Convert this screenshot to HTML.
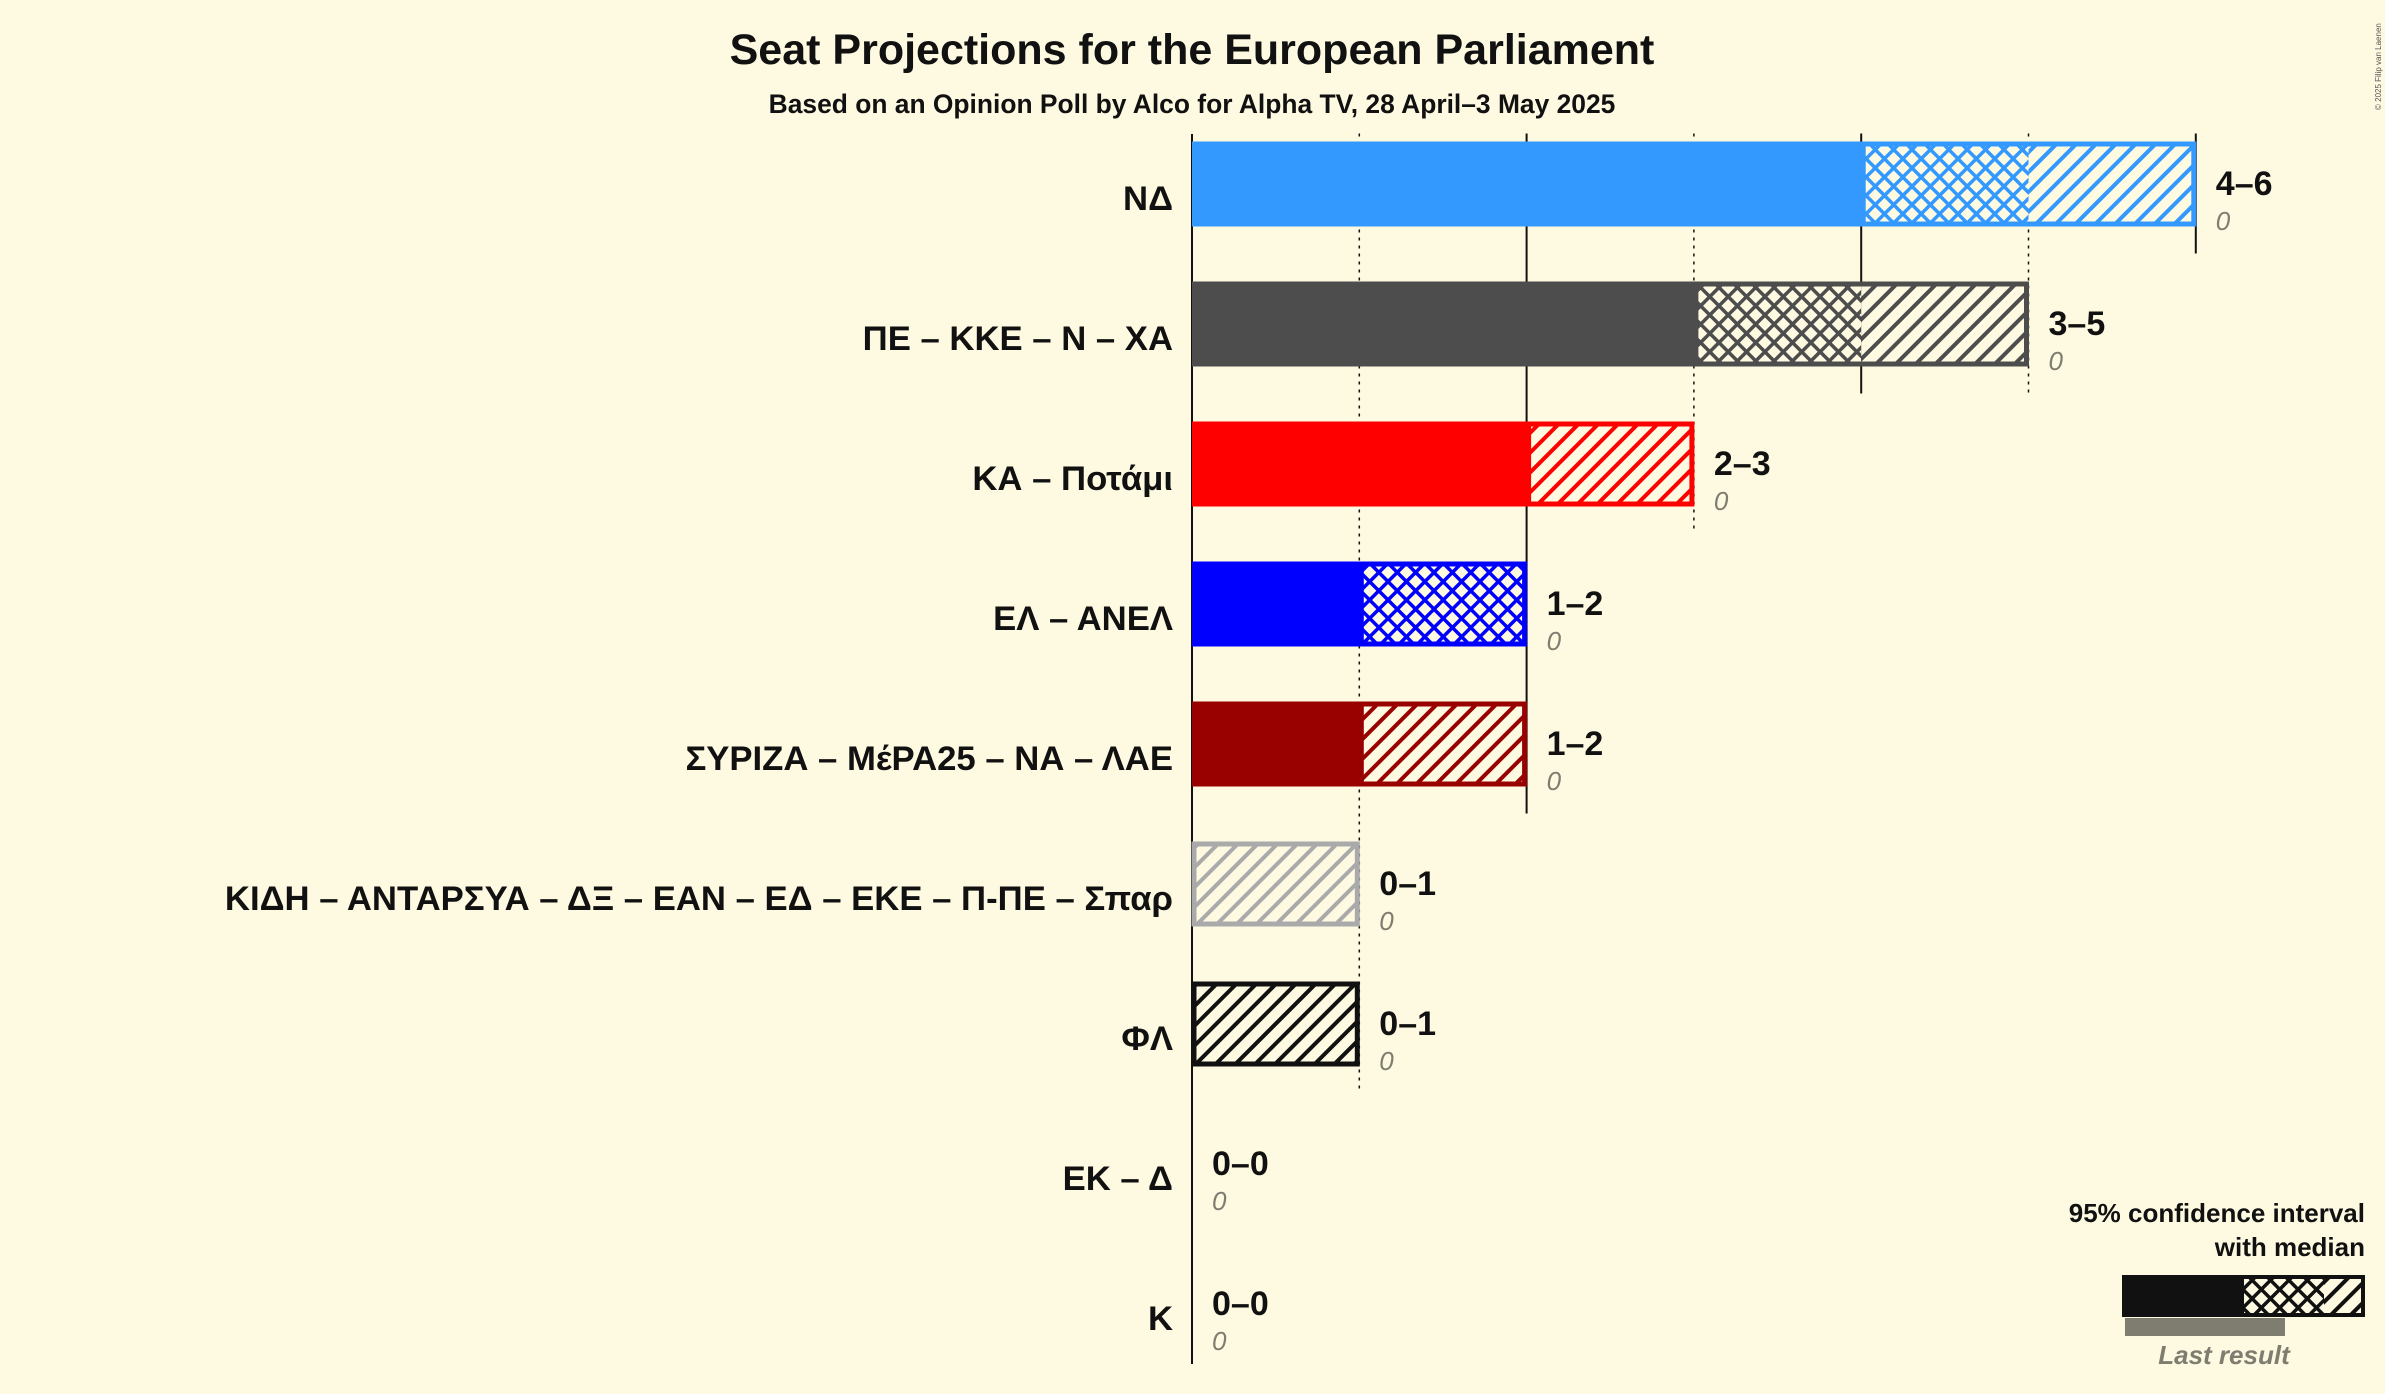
<!DOCTYPE html>
<html><head><meta charset="utf-8"><style>
html,body{margin:0;padding:0;background:#fefae1;}
svg{display:block;font-family:"Liberation Sans","DejaVu Sans",sans-serif;}
</style></head><body>
<svg id="chart" width="2385" height="1394" viewBox="0 0 2385 1394" xmlns="http://www.w3.org/2000/svg">
<defs id="defs"></defs>
<rect x="0" y="0" width="2385" height="1394" fill="#fefae1"/>
<text x="1192" y="64" text-anchor="middle" font-size="43" font-weight="bold" fill="#111">Seat Projections for the European Parliament</text>
<text x="1192" y="113" text-anchor="middle" font-size="26.4" font-weight="bold" fill="#111">Based on an Opinion Poll by Alco for Alpha TV, 28 April–3 May 2025</text>
<text transform="translate(2381,110) rotate(-90)" font-size="8" fill="#555">© 2025 Filip van Laenen</text>
<g id="grid"></g>
<g id="bars"></g>
<g id="legend">
  <text x="2365" y="1222" text-anchor="end" font-size="26" font-weight="bold" fill="#111">95% confidence interval</text>
  <text x="2365" y="1256" text-anchor="end" font-size="26" font-weight="bold" fill="#111">with median</text>
  <rect x="2125" y="1318" width="160" height="18" fill="#7f7d70"/>
  <rect x="2122" y="1275" width="122" height="42" fill="#111"/>
  <rect x="2244" y="1275" width="80" height="42" fill="url(#cross-leg)"/>
  <rect x="2324" y="1275" width="41" height="42" fill="url(#hatch-leg)"/>
  <rect x="2124" y="1277" width="239" height="38" fill="none" stroke="#111" stroke-width="4"/>
  <text x="2224" y="1364" text-anchor="middle" font-size="26" font-style="italic" font-weight="bold" fill="#7f7d70">Last result</text>
</g>
</svg>
<script>
const parties = ["ΝΔ","ΠΕ – ΚΚΕ – Ν – ΧΑ","ΚΑ – Ποτάμι","ΕΛ – ΑΝΕΛ","ΣΥΡΙΖΑ – ΜέΡΑ25 – ΝΑ – ΛΑΕ","ΚΙΔΗ – ΑΝΤΑΡΣΥΑ – ΔΞ – ΕΑΝ – ΕΔ – ΕΚΕ – Π-ΠΕ – Σπαρ","ΦΛ","ΕΚ – Δ","Κ"];
const lows = [4,3,2,1,1,0,0,0,0];
const medians = [5,4,2,2,1,0,0,0,0];
const highs = [6,5,3,2,2,1,1,0,0];
const lastResults = [0,0,0,0,0,0,0,0,0];
const colors = ["#3399ff","#4d4d4d","#ff0000","#0000ff","#990000","#aaaaaa","#111111","#111111","#111111"];

const NS="http://www.w3.org/2000/svg";
const X0=1192, UNIT=167.3, ROW0=184, ROWH=140, BARH=85;
const xs=v=>X0+v*UNIT;
const ys=i=>ROW0+i*ROWH;
const defs=document.getElementById('defs');
const grid=document.getElementById('grid');
const bars=document.getElementById('bars');
function mk(tag,attrs,parent){const e=document.createElementNS(NS,tag);for(const k in attrs)e.setAttribute(k,attrs[k]);parent.appendChild(e);return e;}
function patterns(id,col){
  const h=mk('pattern',{id:'hatch-'+id,patternUnits:'userSpaceOnUse',width:14,height:14,patternTransform:'rotate(45)'},defs);
  mk('rect',{x:0,y:0,width:14,height:14,fill:'#fefae1'},h);
  mk('rect',{x:0,y:0,width:4,height:14,fill:col},h);
  const c=mk('pattern',{id:'cross-'+id,patternUnits:'userSpaceOnUse',width:13,height:13,patternTransform:'rotate(45)'},defs);
  mk('rect',{x:0,y:0,width:13,height:13,fill:'#fefae1'},c);
  mk('rect',{x:0,y:0,width:3.5,height:13,fill:col},c);
  mk('rect',{x:0,y:0,width:13,height:3.5,fill:col},c);
}
patterns('leg','#111');
colors.forEach((c,i)=>patterns(i,c));

const ax=mk('line',{x1:X0,x2:X0,y1:ys(0)-50,y2:ys(parties.length-1)+60,stroke:'#111','stroke-width':2},grid);



const maxHigh=Math.max(...highs);
for(let t=1;t<=maxHigh;t++){
  let last=0;
  highs.forEach((h,i)=>{if(h>=t)last=i;});
  const gl=mk('line',{x1:xs(t),x2:xs(t),y1:ys(0)-BARH/2-8,y2:ys(last)+BARH/2+27,stroke:'#111','stroke-width':t%2?1.5:2,'stroke-dasharray':t%2?'3,5':'none'},grid);
  
  
}

parties.forEach((p,i)=>{
  const cy=ys(i), top=cy-BARH/2;
  const g=mk('g',{},bars);
  
  
  const lab=mk('text',{x:1173,y:cy+26,'text-anchor':'end','font-size':34.7,'font-weight':'bold',fill:'#111'},g);
  lab.textContent=p;
  
  
  if(lows[i]>0){
    const r=mk('rect',{x:xs(0),y:top,width:xs(lows[i])-xs(0),height:BARH,fill:colors[i]},g);
    
    
  }
  if(medians[i]>lows[i]){
    const r=mk('rect',{x:xs(lows[i]),y:top,width:xs(medians[i])-xs(lows[i]),height:BARH,fill:'url(#cross-'+i+')'},g);
    
    
  }
  if(highs[i]>medians[i]){
    const r=mk('rect',{x:xs(medians[i]),y:top,width:xs(highs[i])-xs(medians[i]),height:BARH,fill:'url(#hatch-'+i+')'},g);
    
    
  }
  if(highs[i]>lows[i]){
    const r=mk('rect',{x:xs(lows[i])+2,y:top+2.5,width:xs(highs[i])-xs(lows[i])-4,height:BARH-5,fill:'none',stroke:colors[i],'stroke-width':5},g);
    
    
  }
  const rl=mk('text',{x:xs(highs[i])+20,y:cy+11,'font-size':34,'font-weight':'bold',fill:'#111'},g);
  rl.textContent=lows[i]+'–'+highs[i];
  
  
  const ll=mk('text',{x:xs(highs[i])+20,y:cy+46,'font-size':26,'font-style':'italic',fill:'#7f7d70'},g);
  ll.textContent=lastResults[i];
  
  
});
</script>
</body></html>
